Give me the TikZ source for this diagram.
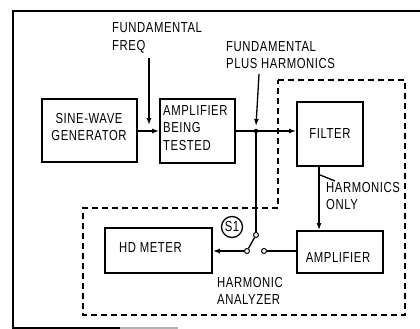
\documentclass[tikz,border=0pt]{standalone}
\usepackage{fontspec}
\setmainfont[FakeStretch=0.78,LetterSpace=4]{Liberation Sans}
\usetikzlibrary{arrows.meta}
\begin{document}
\begin{tikzpicture}[x=1pt,y=-1pt,
  every node/.style={font=\fontsize{14.5}{17.5}\selectfont},
  blk/.style={draw,line width=1.9pt,inner sep=0pt},
  lbl/.style={align=left,inner sep=0pt,anchor=west},
  conn/.style={line width=1.3pt},
  arr/.style={conn,-{Latex[length=7pt,width=5pt]}},
  contact/.style={circle,draw,line width=1pt,fill=white,inner sep=0pt,minimum size=5pt},
  dsh/.style={line width=1.2pt,dash pattern=on 6pt off 4pt}]
\useasboundingbox (0,0) rectangle (420,329);
% outer frame
\draw[line width=1.9pt] (420,11) -- (13,11) -- (13,328) -- (120,328);
\draw[line width=1.2pt,black!30] (120,328) -- (178,328);
% harmonic analyzer dashed outline
\draw[dsh] (278,80) -- (405,80) -- (405,315) -- (83,315) -- (83,208) -- (278,208) -- cycle;
% blocks
\node[blk,minimum width=95pt,minimum height=63pt] (sine) at (89.5,130.5) {};
\node[align=center,inner sep=0pt] (sinet) at (89,127) {SINE-WAVE\\GENERATOR};
\node[blk,minimum width=75pt,minimum height=64pt] (amp) at (197.5,131) {};
\node[lbl] (ampt) at (163,128) {AMPLIFIER\\BEING\\TESTED};
\node[blk,minimum width=66pt,minimum height=64pt] (filter) at (330,134) {FILTER};
\node[blk,minimum width=86pt,minimum height=42pt] (amp2) at (340,252) {};
\node[inner sep=0pt] (amp2t) at (338,258) {AMPLIFIER};
\node[blk,minimum width=107pt,minimum height=45pt] (hd) at (158.5,250.5) {};
\node[lbl] (hdt) at (119,248) {HD METER};
% labels
\node[lbl] (ff) at (112,38) {FUNDAMENTAL\\FREQ};
\node[lbl] (fph) at (226,55) {FUNDAMENTAL\\PLUS HARMONICS};
\node[lbl] (ho) at (326,196) {HARMONICS\\ONLY};
\node[lbl] (ha) at (217,291) {HARMONIC\\ANALYZER};
\node[circle,draw,line width=1.3pt,minimum size=21pt,inner sep=0pt] (s1) at (232,227) {S1};
% coordinates
\coordinate (fftop) at (149,58);
\coordinate (ffend) at (149,125);
\coordinate (fphtop) at (259,74);
\coordinate (fphend) at (256,126);
\coordinate (j) at (256,131);
\node[contact] (sw1) at (256,235) {};
\node[contact] (swp) at (247,251) {};
\node[contact] (sw2) at (264,251) {};
\coordinate (hl1) at (320,175);
\coordinate (hl2) at (335,181);
% connectors
\draw[arr] (sine.east |- 0,131) -- (amp.west |- 0,131);
\draw[arr] (fftop) -- (ffend);
\draw[arr] (amp.east |- j) -- (filter.west |- j);
\fill (j) circle (2.2pt);
\draw[arr] (fphtop) -- (fphend);
\draw[conn] (j) -- (sw1);
\draw[conn] (sw1) -- (swp);
\draw[arr] (swp) -- (swp -| hd.east);
\draw[conn] (sw2) -- (sw2 -| amp2.west);
\draw[arr] (filter.south -| 319,0) -- (amp2.north -| 319,0);
\draw[conn] (hl1) -- (hl2);
\end{tikzpicture}
\end{document}
